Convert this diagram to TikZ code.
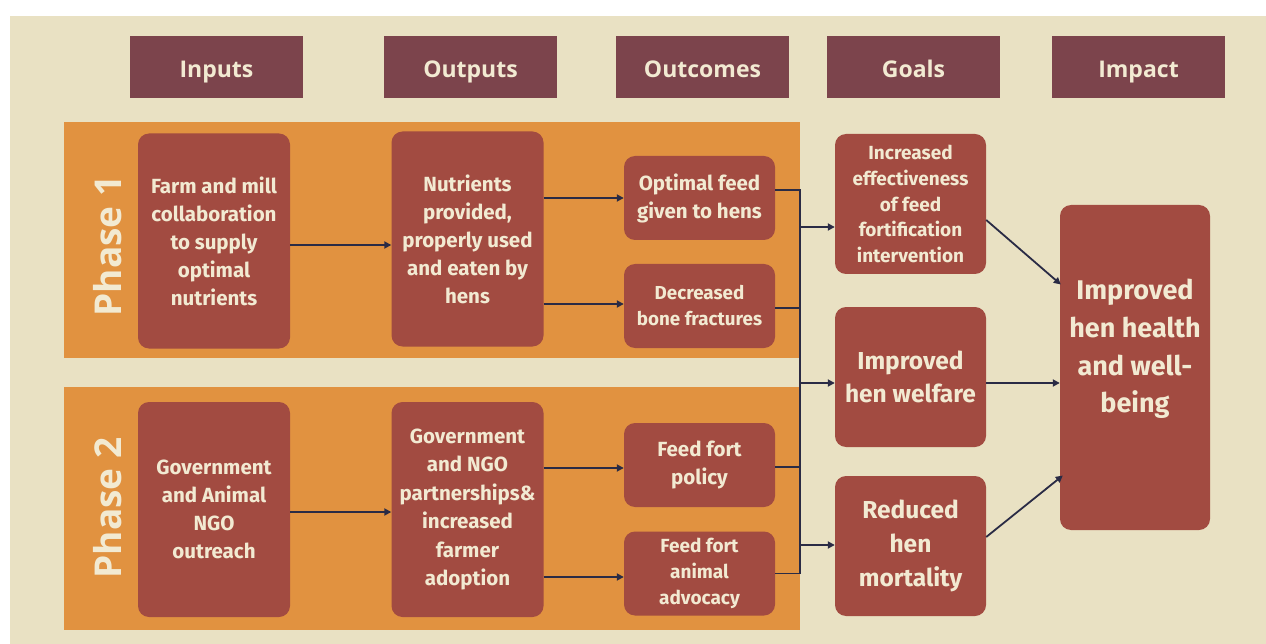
\documentclass[tikz,border=0pt]{standalone}
\usepackage{fontspec}
\usetikzlibrary{arrows.meta}
\newfontfamily\headfont{Open Sans}
\newfontfamily\cellfont{Fira Sans}
\definecolor{paper}{HTML}{E9E1C3}
\definecolor{plum}{HTML}{7C444C}
\definecolor{band}{HTML}{E19240}
\definecolor{brick}{HTML}{A24B41}
\definecolor{cream}{HTML}{F2EAD2}
\definecolor{ink}{HTML}{2A2B45}
\begin{document}
\begin{tikzpicture}[x=1pt,y=-1pt,
  head/.style={fill=plum, text=cream, minimum width=173pt, minimum height=62pt,
    inner sep=0pt, text depth=0pt, text height=20.4pt,
    font=\headfont\bfseries\fontsize{23}{26}\selectfont},
  cell/.style={fill=brick, rounded corners=11pt, text=cream, align=center,
    inner sep=0pt, font=\cellfont\bfseries\fontsize{20.5}{28}\selectfont},
  tall/.style={cell, minimum width=152pt, minimum height=215pt},
  small/.style={cell, minimum width=151pt, minimum height=84pt},
  goal/.style={cell, minimum width=151pt, minimum height=140pt},
  phase/.style={rotate=90, text=cream, inner sep=0pt,
    font=\headfont\bfseries\fontsize{37}{40}\selectfont},
  link/.style={draw=ink, line width=1.8pt},
  arr/.style={link, -{Triangle[length=7pt,width=7pt]}},
]
% canvas
\useasboundingbox (0,0) rectangle (1266,644);
\fill[white] (0,0) rectangle (1266,644);
\fill[paper] (10,16) rectangle (1266,644);

% column headers
\node[head] (hIn)  at (216.5,67) {Inputs};
\node[head] (hOut) at (470.5,67) {Outputs};
\node[head] (hOc)  at (702.5,67) {Outcomes};
\node[head] (hG)   at (913.5,67) {Goals};
\node[head] (hImp) at (1138.5,67) {Impact};

% phase bands
\fill[band] (64,122) rectangle (800,358);
\fill[band] (64,387) rectangle (800,630);
\node[phase] (p1) at (108,246) {Phase 1};
\node[phase] (p2) at (108,508) {Phase 2};

% phase 1 boxes
\node[tall] (in1) at (214,241) {Farm and mill\\collaboration\\to supply\\optimal\\nutrients};
\node[tall] (out1) at (467.5,239) {Nutrients\\provided,\\properly used\\and eaten by\\hens};
\node[small] (oc1) at (699.5,198) {Optimal feed\\given to hens};
\node[small, font=\cellfont\bfseries\fontsize{18.8}{26}\selectfont] (oc2) at (699.5,306) {Decreased\\bone fractures};

% phase 2 boxes
\node[tall] (in2) at (214,509.5) {Government\\and Animal\\NGO\\outreach};
\node[tall, font=\cellfont\bfseries\fontsize{20.5}{28.4}\selectfont] (out2) at (467.5,509.5) {Government\\and NGO\\partnerships\&\\increased\\farmer\\adoption};
\node[small] (oc3) at (699.5,465) {Feed fort\\policy};
\node[small, font=\cellfont\bfseries\fontsize{19}{26}\selectfont] (oc4) at (699.5,573.5) {Feed fort\\animal\\advocacy};

% goals
\node[goal, font=\cellfont\bfseries\fontsize{19}{25.7}\selectfont] (g1) at (910.5,204) {Increased\\effectiveness\\of feed\\fortification\\intervention};
\node[goal, font=\cellfont\bfseries\fontsize{24.5}{33}\selectfont] (g2) at (910.5,377) {Improved\\hen welfare};
\node[goal, font=\cellfont\bfseries\fontsize{24.5}{34}\selectfont] (g3) at (910.5,546) {Reduced\\hen\\mortality};

% impact
\node[cell, minimum width=150pt, minimum height=325pt] (imp) at (1135,367.5) {};
\node[text=cream, align=center, inner sep=0pt,
  font=\cellfont\bfseries\fontsize{27}{37.7}\selectfont] (impT) at (1135,349) {Improved\\hen health\\and well-\\being};

% phase arrows
\draw[arr] ([yshift=-4pt]in1.east) -- ([yshift=-4pt]in1.east -| out1.west);
\draw[arr] (out1.east |- oc1.west) -- (oc1.west);
\draw[arr] ([yshift=2pt]out1.east |- oc2.west) -- ([yshift=2pt]oc2.west);
\draw[arr] ([yshift=-2.5pt]in2.east) -- ([yshift=-2.5pt]in2.east -| out2.west);
\draw[arr] ([yshift=-3pt]out2.east |- oc3.west) -- ([yshift=-3pt]oc3.west);
\draw[arr] ([yshift=-3.5pt]out2.east |- oc4.west) -- ([yshift=-3.5pt]oc4.west);

% collector bus
\coordinate (bx) at (800,0);
\draw[link] ([yshift=8pt]oc1.east) -- ([yshift=8pt]oc1.east -| bx);
\draw[link] ([yshift=-2pt]oc2.east) -- ([yshift=-2pt]oc2.east -| bx);
\draw[link] ([yshift=-2pt]oc3.east) -- ([yshift=-2pt]oc3.east -| bx);
\draw[link] (oc4.east) -- (oc4.east -| bx);
\draw[link, line cap=rect] ([yshift=8pt]oc1.east -| bx) -- (oc4.east -| bx);
\draw[arr] ([yshift=-23pt]g1.west -| bx) -- ([yshift=-23pt]g1.west);
\draw[arr] ([yshift=-6pt]g2.west -| bx) -- ([yshift=-6pt]g2.west);
\draw[arr] ([yshift=1pt]g3.west -| bx) -- ([yshift=1pt]g3.west);

% goals to impact
\draw[arr] ([yshift=-16pt]g1.east) -- ([xshift=1pt,yshift=83pt]imp.west);
\draw[arr] ([yshift=-6pt]g2.east) -- ([yshift=-6pt]g2.east -| imp.west);
\draw[arr] ([yshift=9pt]g3.east) -- ([xshift=3pt,yshift=-108pt]imp.west);
\end{tikzpicture}
\end{document}
